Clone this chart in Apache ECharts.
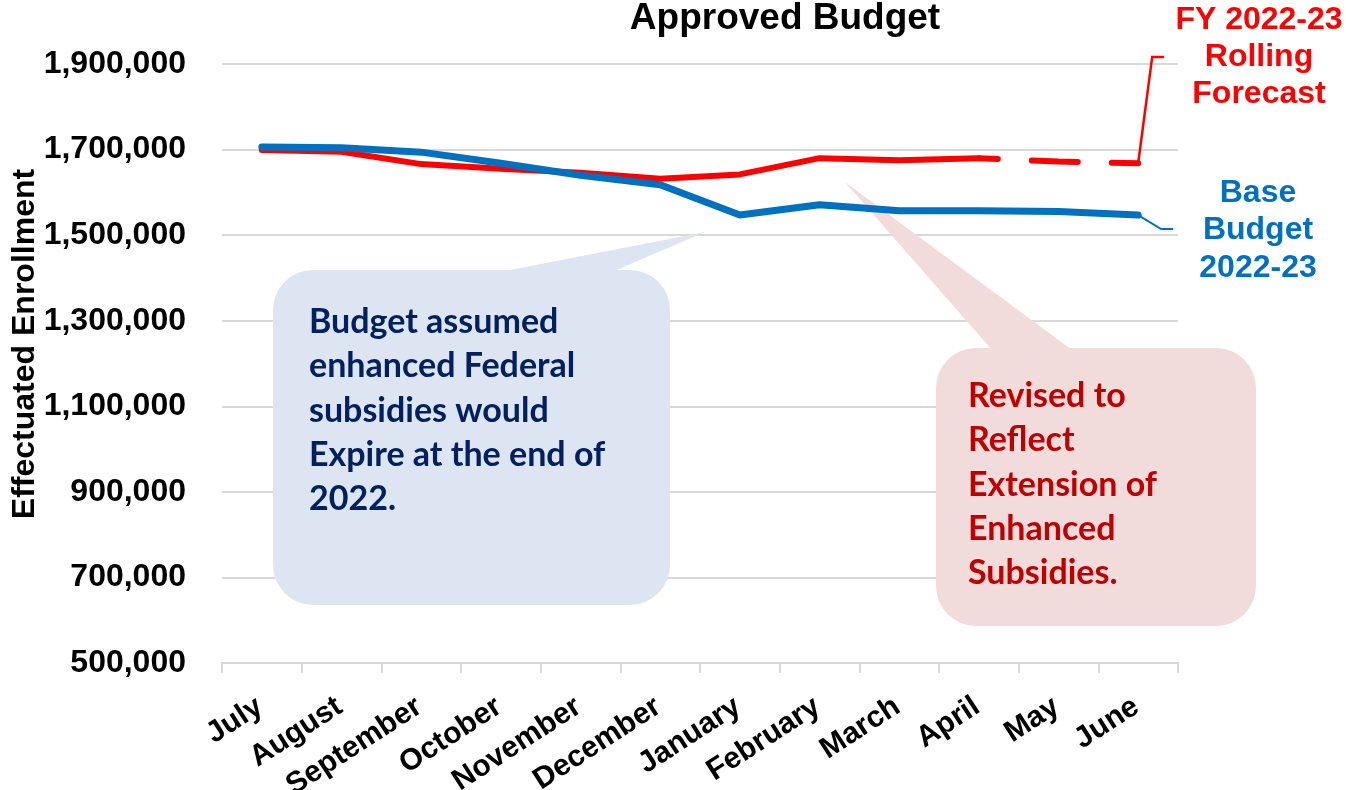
<!DOCTYPE html>
<html>
<head>
<meta charset="utf-8">
<script src="https://cdn.jsdelivr.net/npm/echarts@6/dist/echarts.min.js"></script>
<style>
html,body{margin:0;padding:0;background:#fff;}
#chart{width:1346px;height:790px;}
</style>
</head>
<body>
<div id="chart"></div>
<script>
// ---- data ----
const categories = ['July','August','September','October','November','December','January','February','March','April','May','June'];
const rollingForecast = [1699000, 1695000, 1666000, 1655000, 1646000, 1632000, 1642000, 1680000, 1675000, 1680000, 1672000, 1668000];
const baseBudget = [1706000, 1704000, 1694000, 1668000, 1640000, 1618000, 1547000, 1571000, 1557000, 1557000, 1555000, 1547000];
const dashStartIndex = 9; // forecast becomes dashed from April onward
const yTicks = { min: 500000, max: 1900000, interval: 200000 };
const titleText = 'Approved Budget';
const yAxisName = 'Effectuated Enrollment';
const forecastLabel = ['FY 2022-23', 'Rolling', 'Forecast'];
const baseLabel = ['Base', 'Budget', '2022-23'];
const blueNote = ['Budget assumed', 'enhanced Federal', 'subsidies would', 'Expire at the end of', '2022.'];
const redNote = ['Revised to', 'Reflect', 'Extension of', 'Enhanced', 'Subsidies.'];

const forecastSolid = rollingForecast.map((v, i) => i <= dashStartIndex ? v : null);
const forecastDashed = rollingForecast.map((v, i) => i >= dashStartIndex ? v : null);

const RED = '#FF0000', BLUE = '#0070C0';
const FONT = '"Liberation Sans", Arial, sans-serif';
const NOTEFONT = 'Lato, "Open Sans", sans-serif';

const chart = echarts.init(document.getElementById('chart'), null, { renderer: 'canvas' });

const option = {
  animation: false,
  grid: { left: 222, right: 168, top: 64, bottom: 127, containLabel: false, outerBoundsMode: 'none' },
  xAxis: {
    type: 'category',
    data: categories,
    boundaryGap: true,
    axisLine: { show: true, lineStyle: { color: '#D9D9D9', width: 2 } },
    axisTick: { show: true, length: 10, lineStyle: { color: '#D9D9D9', width: 2 } },
    axisLabel: {
      interval: 0, rotate: 33, margin: 22, align: 'right', verticalAlign: 'top',
      padding: [0, 12, 0, 0],
      fontFamily: FONT, fontSize: 30, fontWeight: 'bold', color: '#000'
    },
    splitLine: { show: false }
  },
  yAxis: {
    type: 'value',
    min: yTicks.min, max: yTicks.max, interval: yTicks.interval,
    axisLine: { show: false },
    axisTick: { show: false },
    axisLabel: {
      margin: 36, fontFamily: FONT, fontSize: 32, fontWeight: 'bold', color: '#000',
      formatter: v => v.toLocaleString('en-US')
    },
    splitLine: { show: true, lineStyle: { color: '#D9D9D9', width: 2 } }
  },
  series: [
    {
      name: 'Rolling Forecast', type: 'line', data: forecastSolid, symbol: 'none', z: 3,
      lineStyle: { color: RED, width: 6, cap: 'round', join: 'round' }
    },
    {
      name: 'Rolling Forecast (proj)', type: 'line', data: forecastDashed, symbol: 'none', z: 3,
      lineStyle: { color: RED, width: 6, type: [46, 34], dashOffset: 27, cap: 'round' }
    },
    {
      name: 'Base Budget', type: 'line', data: baseBudget, symbol: 'none', z: 4,
      lineStyle: { color: BLUE, width: 7, cap: 'round', join: 'round' }
    }
  ]
};
chart.setOption(option);

// annotations
const last = categories.length - 1;
const pRed = chart.convertToPixel({ gridIndex: 0 }, [last, rollingForecast[last]]);
const pBlue = chart.convertToPixel({ gridIndex: 0 }, [last, baseBudget[last]]);

function textLines(lines, x, y0, step, style) {
  return lines.map((t, i) => ({
    type: 'text', z: 10, x: x, y: y0 + i * step,
    style: Object.assign({ text: t, verticalAlign: 'middle' }, style)
  }));
}

const graphics = [];
// title
graphics.push({ type: 'text', z: 10, x: 785, y: 19, style: {
  text: titleText, textAlign: 'center', verticalAlign: 'middle',
  font: 'bold 37px ' + FONT, fill: '#000' } });
// y axis name
graphics.push({ type: 'text', z: 10, x: 25, y: 344, rotation: Math.PI / 2, style: {
  text: yAxisName, textAlign: 'center', verticalAlign: 'middle',
  font: 'bold 32px ' + FONT, fill: '#000' } });

// blue callout
graphics.push({ type: 'polygon', z: 0, shape: { points: [[500, 272], [705, 232], [612, 272]] },
  style: { fill: '#DCE5F1' } });
graphics.push({ type: 'rect', z: 0, shape: { x: 273, y: 270, width: 397, height: 335, r: 40 },
  style: { fill: '#DCE5F1' } });
graphics.push(...textLines(blueNote, 309, 322, 44.3, { textAlign: 'left', font: 'bold 34px ' + NOTEFONT, fill: '#002060' }));

// red callout
graphics.push({ type: 'polygon', z: 0, shape: { points: [[845, 182], [992, 350], [1072, 350]] },
  style: { fill: '#F2DCDB' } });
graphics.push({ type: 'rect', z: 0, shape: { x: 936, y: 348, width: 320, height: 278, r: 40 },
  style: { fill: '#F2DCDB' } });
graphics.push(...textLines(redNote, 968, 396, 44.3, { textAlign: 'left', font: 'bold 34px ' + NOTEFONT, fill: '#C00000' }));

// leader lines
graphics.push({ type: 'polyline', z: 5, shape: { points: [[pRed[0], pRed[1]], [pRed[0] + 14, 57], [pRed[0] + 26, 57]] },
  style: { stroke: RED, lineWidth: 2.5, fill: null } });
graphics.push({ type: 'polyline', z: 5, shape: { points: [[pBlue[0], pBlue[1]], [pBlue[0] + 23, 229], [pBlue[0] + 35, 229]] },
  style: { stroke: BLUE, lineWidth: 2, fill: null } });

// series labels
graphics.push(...textLines(forecastLabel, 1259, 20, 37, { textAlign: 'center', font: 'bold 32px ' + FONT, fill: RED }));
graphics.push(...textLines(baseLabel, 1258, 193, 37.5, { textAlign: 'center', font: 'bold 32px ' + FONT, fill: BLUE }));

chart.setOption({ graphic: graphics });
</script>
</body>
</html>
